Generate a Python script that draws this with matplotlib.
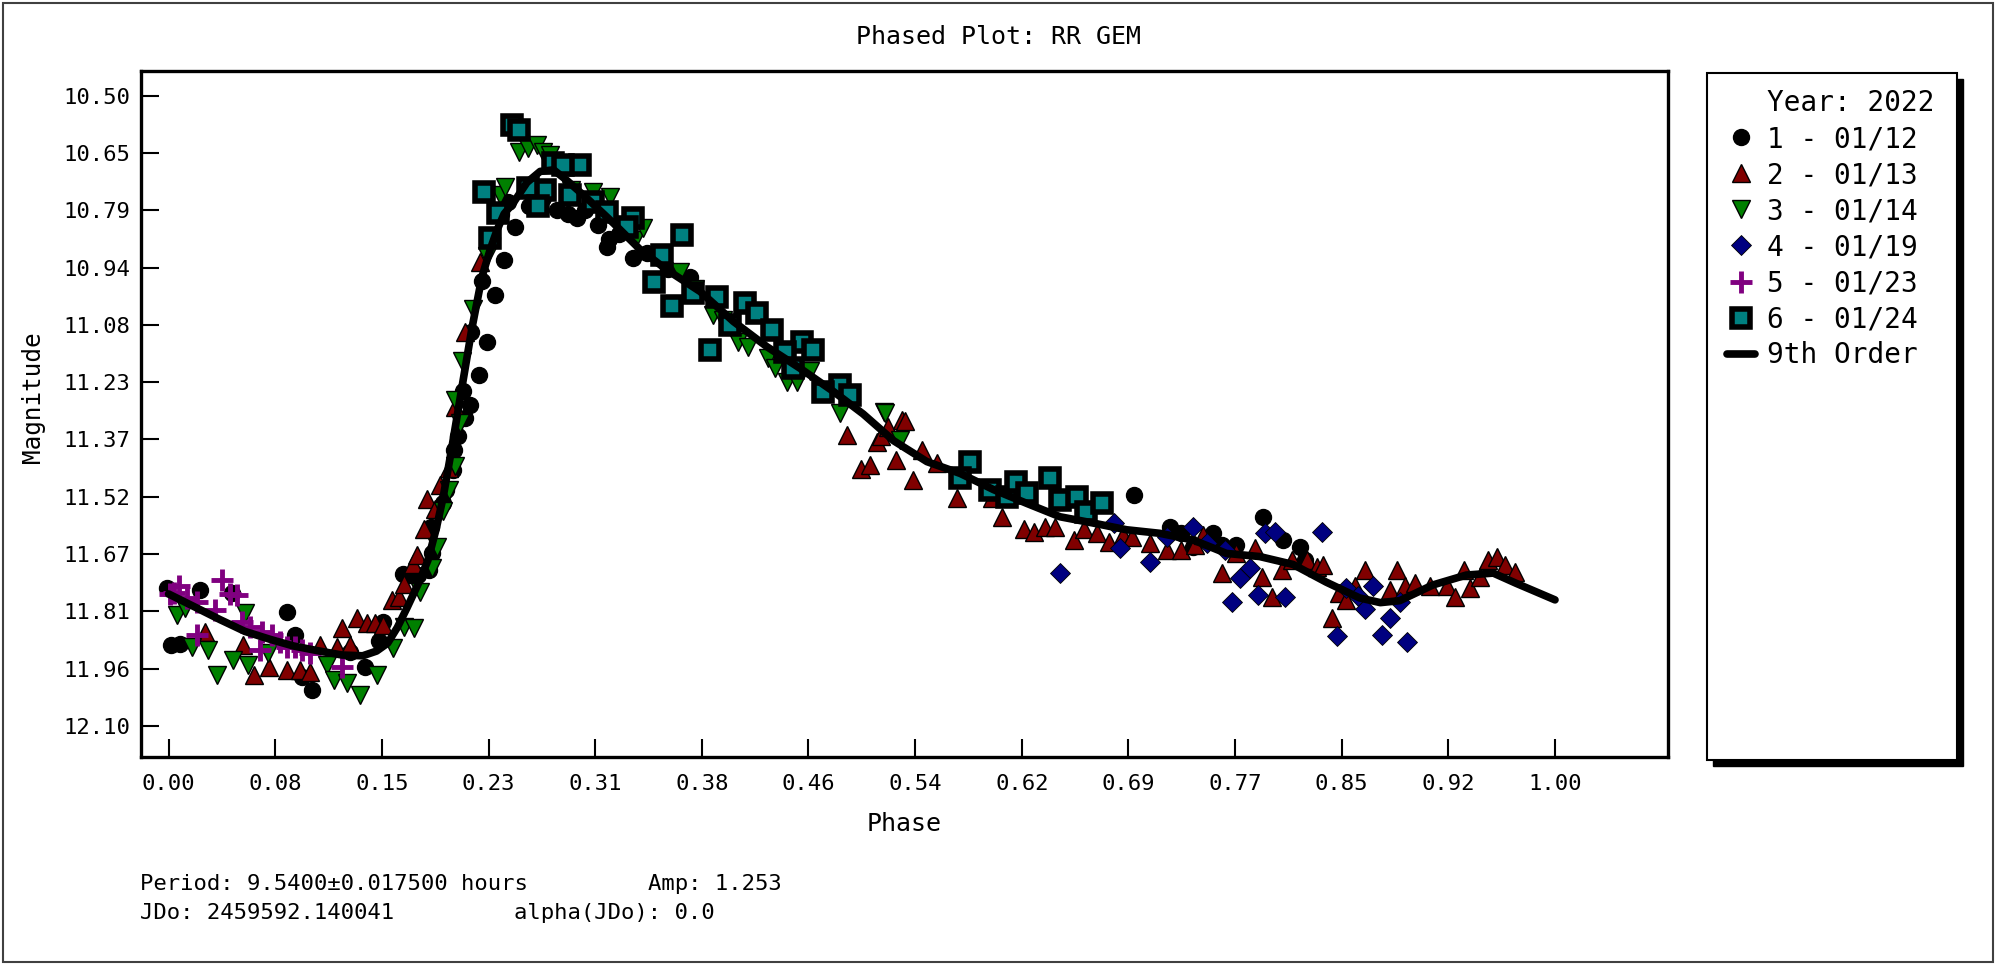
import numpy as np
import matplotlib
matplotlib.use("Agg")
import matplotlib.pyplot as plt
from matplotlib.lines import Line2D
from matplotlib.patches import Rectangle

plt.rcParams['font.family'] = ['DejaVu Sans Mono']

# --- data ---
# 1 - 01/12 (black circles)
phase_1 = [-0.001, 0.002, 0.008, 0.023, 0.046, 0.0854, 0.091, 0.096, 0.1034, 0.131, 0.142, 0.152,
           0.155, 0.169, 0.1743, 0.180, 0.1875, 0.189, 0.19, 0.198, 0.2, 0.2055, 0.206, 0.209, 0.212,
           0.214, 0.2176, 0.218, 0.2236, 0.226, 0.2296, 0.233, 0.2356, 0.24, 0.2416, 0.245, 0.250,
           0.26, 0.27, 0.280, 0.288, 0.2945, 0.30, 0.310, 0.3161, 0.3177, 0.325, 0.3353, 0.345,
           0.36, 0.3762, 0.696, 0.7224, 0.73, 0.739, 0.7536, 0.76, 0.77, 0.7897, 0.804, 0.816, 0.82]
mag_1 = [11.751, 11.895, 11.893, 11.755, 11.763, 11.81, 11.869, 11.975, 12.009, 11.912, 11.95, 11.885,
         11.835, 11.714, 11.717, 11.717, 11.705, 11.595, 11.66, 11.534, 11.5, 11.449, 11.40, 11.364, 11.25,
         11.318, 11.285, 11.10, 11.208, 10.97, 11.124, 10.86, 11.007, 10.80, 10.917, 10.77, 10.832,
         10.78, 10.76, 10.79, 10.80, 10.811, 10.79, 10.829, 10.883, 10.864, 10.85, 10.912, 10.90,
         10.94, 10.959, 11.514, 11.594, 11.61, 11.645, 11.611, 11.64, 11.64, 11.569, 11.628, 11.645, 11.68]

# 2 - 01/13 (dark red triangles)
phase_2 = [0.0266, 0.054, 0.0613, 0.0721, 0.0854, 0.095, 0.1022, 0.1094, 0.1214, 0.125, 0.131, 0.1359,
           0.143, 0.149, 0.155, 0.161, 0.1659, 0.17, 0.176, 0.179, 0.184, 0.1863, 0.192, 0.196, 0.202,
           0.2068, 0.214, 0.2248, 0.4892, 0.4995, 0.506, 0.511, 0.514, 0.519, 0.525, 0.529, 0.5313,
           0.537, 0.5433, 0.554, 0.5686, 0.594, 0.601, 0.617, 0.624, 0.632, 0.639, 0.653, 0.66, 0.6695,
           0.678, 0.6887, 0.695, 0.708, 0.72, 0.73, 0.74, 0.7464, 0.7597, 0.77, 0.7837, 0.7885, 0.7957,
           0.803, 0.81, 0.821, 0.828, 0.833, 0.839, 0.844, 0.849, 0.856, 0.863, 0.881, 0.886, 0.892,
           0.899, 0.910, 0.922, 0.928, 0.934, 0.939, 0.946, 0.952, 0.958, 0.964, 0.971]
mag_2 = [11.861, 11.895, 11.971, 11.95, 11.958, 11.958, 11.962, 11.895, 11.899, 11.852, 11.895, 11.827,
         11.839, 11.839, 11.844, 11.78, 11.772, 11.74, 11.69, 11.665, 11.60, 11.524, 11.55, 11.489, 11.444,
         11.289, 11.099, 10.922, 11.361, 11.447, 11.437, 11.378, 11.363, 11.341, 11.425, 11.323, 11.327,
         11.476, 11.40, 11.433, 11.522, 11.522, 11.569, 11.60, 11.607, 11.595, 11.594, 11.628, 11.60, 11.611,
         11.632, 11.615, 11.62, 11.636, 11.653, 11.653, 11.64, 11.615, 11.712, 11.66, 11.649, 11.721, 11.772,
         11.704, 11.68, 11.679, 11.696, 11.691, 11.827, 11.763, 11.78, 11.746, 11.704, 11.755, 11.704, 11.746,
         11.738, 11.746, 11.746, 11.772, 11.704, 11.75, 11.721, 11.679, 11.670, 11.691, 11.708]

# 3 - 01/14 (green inverted triangles)
phase_3 = [0.006, 0.0118, 0.0169, 0.0287, 0.0349, 0.0467, 0.0553, 0.0576, 0.072, 0.1142, 0.119, 0.1286,
           0.1382, 0.150, 0.162, 0.17, 0.1767, 0.1816, 0.19, 0.1935, 0.198, 0.202, 0.2068, 0.21, 0.2068,
           0.2116, 0.2198, 0.2296, 0.239, 0.2428, 0.2526, 0.2594, 0.2657, 0.270, 0.275, 0.29, 0.306,
           0.3186, 0.3366, 0.3424, 0.355, 0.369, 0.38, 0.3928, 0.40, 0.4108, 0.418, 0.4325, 0.4375,
           0.446, 0.453, 0.4628, 0.4844, 0.5157, 0.5168, 0.5277]
mag_3 = [11.818, 11.80, 11.899, 11.907, 11.971, 11.933, 11.813, 11.945, 11.915, 11.945, 11.983, 11.992,
         12.022, 11.971, 11.902, 11.85, 11.851, 11.759, 11.70, 11.645, 11.554, 11.50, 11.439, 11.33, 11.272,
         11.173, 11.042, 10.908, 10.752, 10.731, 10.642, 10.632, 10.625, 10.643, 10.65, 10.74, 10.744,
         10.757, 10.866, 10.836, 10.92, 10.948, 10.99, 11.056, 11.07, 11.124, 11.137, 11.166, 11.191,
         11.226, 11.226, 11.200, 11.305, 11.302, 11.305, 11.374]

# 4 - 01/19 (navy diamonds)
phase_4 = [0.643, 0.682, 0.6864, 0.708, 0.72, 0.739, 0.7488, 0.762, 0.767, 0.773, 0.780, 0.786, 0.791,
           0.798, 0.805, 0.832, 0.843, 0.849, 0.858, 0.863, 0.869, 0.875, 0.881, 0.888, 0.893]
mag_4 = [11.712, 11.585, 11.649, 11.683, 11.62, 11.594, 11.636, 11.653, 11.785, 11.725, 11.70, 11.768, 11.611,
         11.607, 11.772, 11.607, 11.873, 11.75, 11.77, 11.802, 11.746, 11.869, 11.827, 11.785, 11.886]

# 5 - 01/23 (purple crosses)
phase_5 = [0.001, 0.0036, 0.0072, 0.0133, 0.0205, 0.0205, 0.0337, 0.0385, 0.0445, 0.0493, 0.053, 0.0589,
           0.066, 0.0673, 0.0746, 0.0806, 0.0854, 0.0914, 0.0962, 0.102, 0.125]
mag_5 = [11.765, 11.763, 11.746, 11.776, 11.785, 11.869, 11.806, 11.729, 11.765, 11.767, 11.835, 11.848,
         11.907, 11.861, 11.869, 11.886, 11.899, 11.899, 11.907, 11.916, 11.95]

# 6 - 01/24 (teal squares)
phase_6 = [0.2476, 0.2531, 0.2272, 0.2717, 0.2594, 0.2774, 0.2969, 0.2844, 0.2667, 0.2378, 0.232, 0.2897,
           0.3063, 0.316, 0.3352, 0.3306, 0.370, 0.3558, 0.3498, 0.363, 0.3786, 0.3955, 0.4159, 0.4243,
           0.405, 0.3906, 0.4351, 0.4568, 0.4651, 0.4447, 0.4506, 0.4844, 0.4916, 0.472,
           0.578, 0.571, 0.5925, 0.6046, 0.611, 0.619, 0.636, 0.643, 0.655, 0.662, 0.673]
mag_6 = [10.574, 10.587, 10.743, 10.739, 10.734, 10.670, 10.675, 10.675, 10.781, 10.797, 10.861, 10.752,
         10.769, 10.794, 10.81, 10.832, 10.853, 10.904, 10.972, 11.035, 11.001, 11.010, 11.027, 11.052,
         11.082, 11.145, 11.095, 11.124, 11.145, 11.15, 11.19, 11.234, 11.26, 11.252,
         11.429, 11.471, 11.50, 11.518, 11.48, 11.509, 11.471, 11.526, 11.518, 11.556, 11.535]

# 9th order fit
fit_phase = [0.000, 0.020, 0.037, 0.055, 0.073, 0.090, 0.109, 0.125, 0.140, 0.150, 0.158, 0.165, 0.172,
             0.180, 0.187, 0.193, 0.198, 0.204, 0.2116, 0.2188, 0.226, 0.232, 0.237, 0.242, 0.249, 0.2585,
             0.268, 0.2777, 0.2873, 0.3017, 0.321, 0.340, 0.3594, 0.3834, 0.4074, 0.4315, 0.4555, 0.4796,
             0.501, 0.523, 0.547, 0.571, 0.595, 0.619, 0.643, 0.667, 0.691, 0.715, 0.739, 0.763, 0.787,
             0.811, 0.835, 0.859, 0.874, 0.888, 0.912, 0.936, 0.9555, 0.972, 1.000]
fit_mag = [11.765, 11.80, 11.83, 11.86, 11.88, 11.897, 11.91, 11.92, 11.922, 11.91, 11.89, 11.85, 11.80,
           11.74, 11.68, 11.60, 11.52, 11.40, 11.24, 11.09, 10.96, 10.89, 10.84, 10.80, 10.77, 10.72,
           10.692, 10.688, 10.715, 10.76, 10.824, 10.89, 10.942, 10.997, 11.073, 11.137, 11.192, 11.251,
           11.308, 11.376, 11.429, 11.459, 11.50, 11.535, 11.569, 11.585, 11.602, 11.611, 11.628, 11.662, 11.67,
           11.69, 11.735, 11.775, 11.787, 11.782, 11.742, 11.717, 11.712, 11.738, 11.78]

series_labels = ['1 - 01/12', '2 - 01/13', '3 - 01/14', '4 - 01/19', '5 - 01/23', '6 - 01/24']
fit_label = '9th Order'
year_label = 'Year: 2022'
x_tick_labels = ['0.00', '0.08', '0.15', '0.23', '0.31', '0.38', '0.46', '0.54', '0.62', '0.69',
                 '0.77', '0.85', '0.92', '1.00']
y_tick_labels = ['10.50', '10.65', '10.79', '10.94', '11.08', '11.23', '11.37', '11.52', '11.67',
                 '11.81', '11.96', '12.10']

W, H = 1997, 965
fig = plt.figure(figsize=(W / 100, H / 100), dpi=100)
ax = fig.add_axes([141 / W, (H - 757) / H, 1527 / W, 686 / H])

h1, = ax.plot(phase_1, mag_1, 'o', color='black', mec='black', ms=11.5, label=series_labels[0])
h2, = ax.plot(phase_2, mag_2, '^', color='#800000', mec='black', mew=1, ms=13, label=series_labels[1])
h3, = ax.plot(phase_3, mag_3, 'v', color='#008000', mec='black', mew=1, ms=13, label=series_labels[2])
h4, = ax.plot(phase_4, mag_4, 'D', color='#000080', mec='black', mew=0.6, ms=10, label=series_labels[3])
h5, = ax.plot(phase_5, mag_5, '+', color='#800080', mew=3.5, ms=16, label=series_labels[4])
h6, = ax.plot(phase_6, mag_6, 's', color='#008080', mec='black', mew=4, ms=13, label=series_labels[5])
hf, = ax.plot(fit_phase, fit_mag, '-', color='black', lw=5.5, solid_capstyle='round', label=fit_label)

ax.set_xlim(-0.0199, 1.0815)
ax.set_ylim(12.179, 10.437)
ax.set_xticks(np.linspace(0, 1, len(x_tick_labels)))
ax.set_xticklabels(x_tick_labels)
ax.set_yticks(np.linspace(10.5, 12.1, len(y_tick_labels)))
ax.set_yticklabels(y_tick_labels)
ax.tick_params(direction='in', length=13, width=1.5, labelsize=16, colors='black')
ax.tick_params(axis='x', pad=12)
ax.tick_params(axis='y', pad=8)
for sp in ax.spines.values():
    sp.set_linewidth(2.4)

ax.set_xlabel('Phase', fontsize=18)
ax.xaxis.set_label_coords(0.5, -(824 - 757) / 686)
ax.xaxis.label.set_va('center')
ax.set_ylabel('Magnitude', fontsize=17.5)
ax.yaxis.set_label_coords((33 - 141) / 1527, (757 - 397) / 686)
ax.yaxis.label.set_va('center')

fig.text(0.5, 1 - 37 / H, 'Phased Plot: RR GEM', fontsize=18, ha='center', va='center')

# footer
fig.text(140 / W, 1 - 884 / H, 'Period: 9.5400\u00b10.017500 hours', fontsize=16, va='center')
fig.text(648 / W, 1 - 884 / H, 'Amp: 1.253', fontsize=16, va='center')
fig.text(140 / W, 1 - 913 / H, 'JDo: 2459592.140041', fontsize=16, va='center')
fig.text(514 / W, 1 - 913 / H, 'alpha(JDo): 0.0', fontsize=16, va='center')

# legend panel with drop shadow
fig.add_artist(Rectangle((1713 / W, (H - 766) / H), 250 / W, 687 / H, transform=fig.transFigure,
                         facecolor='black', edgecolor='black', zorder=1))
fig.add_artist(Rectangle((1707 / W, (H - 760) / H), 250 / W, 687 / H, transform=fig.transFigure,
                         facecolor='white', edgecolor='black', lw=1.5, zorder=2))
year_handle = Line2D([], [], linestyle='none')
leg = fig.legend([year_handle, h1, h2, h3, h4, h5, h6, hf],
                 [year_label] + series_labels + [fit_label],
                 loc='upper left', bbox_to_anchor=(1727 / W, 1 - 89 / H), frameon=False,
                 fontsize=20, handlelength=1.0, handletextpad=0.45, labelspacing=0.29,
                 borderpad=0, borderaxespad=0, numpoints=1)
leg.set_zorder(3)

# outer frame
fig.add_artist(Rectangle((3 / W, 3 / H), 1990 / W, 959 / H, transform=fig.transFigure,
                         fill=False, edgecolor='#404040', lw=1.5))

fig.savefig('out.png', dpi=100)
